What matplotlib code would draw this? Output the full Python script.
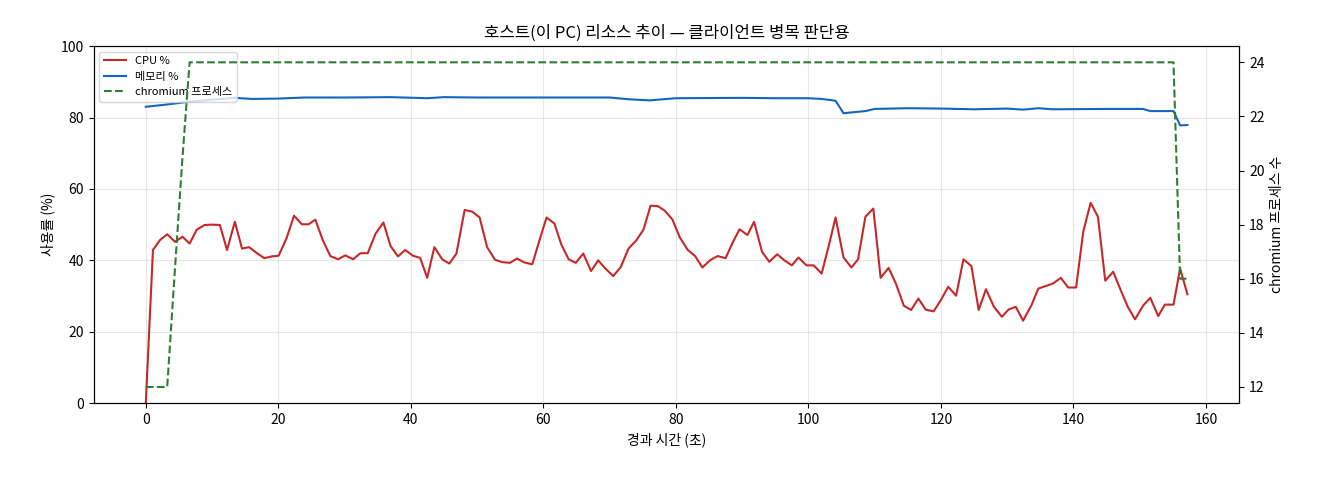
import matplotlib
matplotlib.use("Agg")
import matplotlib.pyplot as plt

plt.rcParams['font.family'] = ['Noto Sans CJK KR', 'DejaVu Sans']
plt.rcParams['axes.unicode_minus'] = False

# CPU samples (seconds, %)
t_cpu = [0, 1.08, 2.15, 3.23, 4.41, 5.54, 6.61, 7.69, 8.87, 10.05, 11.18, 12.26, 13.44,
         14.52, 15.59, 16.77, 17.9, 18.98, 20.05, 21.24, 22.37, 23.55, 24.57, 25.59, 26.72,
         27.85, 29.03, 30.11, 31.29, 32.37, 33.49, 34.68, 35.86, 36.94, 38.06, 39.14, 40.32,
         41.4, 42.47, 43.55, 44.73, 45.81, 46.88, 48.12, 49.3, 50.38, 51.51, 52.69, 53.76,
         54.95, 56.02, 57.15, 58.33, 59.41, 60.48, 61.67, 62.74, 63.82, 64.89, 66.02, 67.2,
         68.28, 69.35, 70.54, 71.67, 72.85, 74.03, 75.11, 76.18, 77.26, 78.33, 79.46, 80.6,
         81.8, 82.9, 84.0, 85.2, 86.3, 87.5, 88.5, 89.6, 90.8, 91.8, 93.0, 94.1, 95.3, 96.3,
         97.5, 98.5, 99.7, 100.8, 102.0, 103.1, 104.1, 105.3, 106.5, 107.5, 108.6, 109.8,
         110.9, 112.1, 113.2, 114.4, 115.5, 116.6, 117.7, 118.9, 120.0, 121.1, 122.3, 123.4,
         124.6, 125.7, 126.8, 128.0, 129.2, 130.2, 131.3, 132.4, 133.7, 134.7, 135.8, 136.9,
         138.1, 139.2, 140.4, 141.5, 142.6, 143.7, 144.8, 146.0, 147.1, 148.2, 149.3, 150.5,
         151.6, 152.8, 153.8, 155.1, 156.1, 157.2]
cpu = [0, 42.9, 45.7, 47.3, 45.2, 46.6, 44.7, 48.6, 49.9, 50.0, 49.9, 42.9, 50.8,
       43.3, 43.7, 42.0, 40.6, 41.1, 41.3, 46.2, 52.5, 50.1, 50.1, 51.4, 45.6,
       41.2, 40.3, 41.4, 40.3, 42.0, 42.0, 47.5, 50.6, 44.0, 41.1, 42.9, 41.3,
       40.7, 35.1, 43.7, 40.3, 39.1, 41.9, 54.1, 53.6, 52.0, 43.7, 40.2, 39.5,
       39.3, 40.5, 39.4, 38.9, 45.6, 52.0, 50.3, 44.3, 40.3, 39.3, 41.9, 37.0,
       40.0, 37.7, 35.6, 38.1, 43.3, 45.6, 48.6, 55.3, 55.2, 53.9, 51.5, 46.4,
       42.9, 41.2, 38.0, 40.1, 41.2, 40.6, 44.7, 48.7, 47.1, 50.8, 42.4, 39.6, 41.7, 40.1,
       38.6, 40.8, 38.6, 38.6, 36.3, 44.3, 52.0, 40.8, 38.0, 40.3, 52.2, 54.5,
       35.1, 37.9, 33.5, 27.3, 26.1, 29.3, 26.2, 25.7, 28.9, 32.6, 30.1, 40.3,
       38.4, 26.1, 31.9, 27.0, 24.2, 26.2, 27.0, 23.1, 27.6, 32.1, 32.8, 33.5,
       35.1, 32.4, 32.4, 48.2, 56.1, 52.2, 34.3, 36.8, 31.8, 27.0, 23.5, 27.3,
       29.5, 24.4, 27.6, 27.6, 37.7, 30.5]

# memory samples (seconds, %)
t_mem = [0, 3, 6, 10, 13.4, 16, 20, 24, 30, 37, 42.5, 45, 50, 60, 70, 72.9, 76, 80,
         90, 95, 100, 102, 104.1, 105.3, 108.6, 110, 115, 120, 125, 130, 132.4, 134.7,
         136.9, 145, 150.5, 151.6, 155.1, 156.1, 157.2]
mem = [83.0, 83.6, 84.3, 85.0, 85.5, 85.2, 85.3, 85.6, 85.6, 85.7, 85.4, 85.7, 85.6,
       85.6, 85.6, 85.1, 84.8, 85.4, 85.5, 85.4, 85.4, 85.2, 84.7, 81.2, 81.8, 82.4,
       82.6, 82.5, 82.3, 82.5, 82.2, 82.6, 82.3, 82.4, 82.4, 81.8, 81.8, 77.8, 77.9]

# chromium process count
t_proc = [0, 3.23, 4.41, 5.54, 6.61, 155.1, 156.1, 157.2]
proc = [12, 12, 16.4, 20.5, 24, 24, 16, 16]

fig, ax = plt.subplots(figsize=(13.2, 4.8), dpi=100)
l1, = ax.plot(t_cpu, cpu, color='#c62828', lw=1.5, label='CPU %')
l2, = ax.plot(t_mem, mem, color='#1565c0', lw=1.5, label='메모리 %')
ax.set_ylim(0, 100)
ax.set_xlabel('경과 시간 (초)')
ax.set_ylabel('사용률 (%)')
ax.grid(True, alpha=0.3)
ax.set_title('호스트(이 PC) 리소스 추이 — 클라이언트 병목 판단용')

ax2 = ax.twinx()
l3, = ax2.plot(t_proc, proc, color='#2e7d32', lw=1.5, ls='--', label='chromium 프로세스')
ax2.set_ylabel('chromium 프로세스 수')

ax.legend(handles=[l1, l2, l3], loc='upper left', fontsize=8)
fig.subplots_adjust(left=0.071, right=0.939, top=0.904, bottom=0.160)
fig.savefig('out.png')
